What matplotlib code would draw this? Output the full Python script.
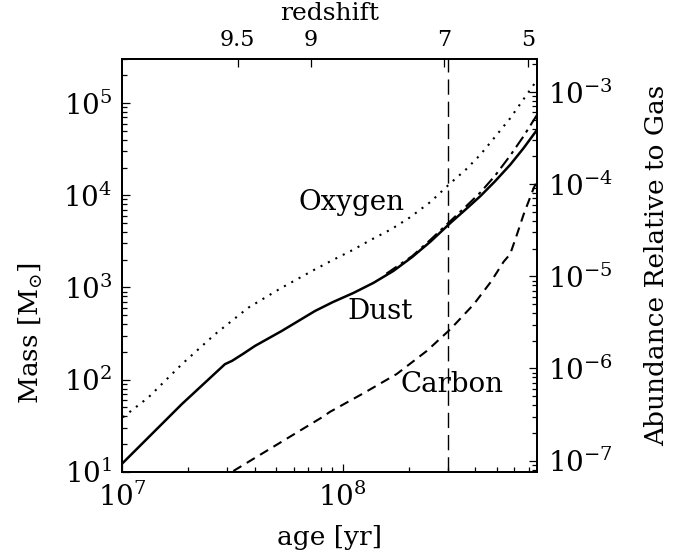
import matplotlib

matplotlib.use("Agg")
import matplotlib.pyplot as plt
import numpy as np
from matplotlib.ticker import FuncFormatter, LogLocator, NullFormatter, NullLocator

plt.rcParams["font.family"] = "DejaVu Serif"
plt.rcParams["mathtext.fontset"] = "dejavuserif"

# ages in Myr, masses in solar masses
dust_age = [10.0, 18.7, 29.3, 31.6, 35.5, 40.1, 53.0, 75.0, 90.2, 112, 138, 170, 207, 251, 308, 363, 421, 490, 575, 661, 760]
dust_mass = [12.2, 54.3, 147, 160, 191, 232, 337, 555, 692, 871, 1120, 1510, 2140, 3160, 5000, 7080, 9770, 14100, 21400, 32400, 51000]

dust2_age = [158, 207, 251, 308, 363, 421, 490, 575, 661, 760]
dust2_mass = [1410, 2190, 3310, 5250, 7590, 10700, 16200, 26900, 43600, 74100]

oxygen_age = [10.1, 13.2, 18.7, 26.4, 37.4, 53.0, 75.0, 89.1, 112, 133, 166, 202, 251, 308, 363, 421, 490, 575, 661, 760]
oxygen_mass = [39.0, 64.3, 147, 310, 603, 993, 1570, 1950, 2570, 3240, 4270, 5750, 8510, 13500, 19100, 27500, 42700, 68400, 110000, 177000]

carbon_age = [32.0, 80.7, 87.7, 124, 176, 241, 308, 393, 470, 537, 575, 617, 661, 735, 760]
carbon_mass = [10.2, 39.0, 44.7, 70.8, 115, 205, 352, 655, 1150, 1900, 2300, 3740, 6150, 11970, 14100]

gas_mass = 1.32e8  # converts mass to abundance on the right axis

redshift_labels = ["9.5", "9", "7", "5"]
redshift_age = [33.5, 72.0, 289, 694]  # Myr

marker_age = 300  # Myr, vertical dashed line

myr = 1e6


def pow10(v, pos):
    return r"$10^{%d}$" % int(round(np.log10(v)))


fig = plt.figure(figsize=(6.81, 5.59), dpi=100)
ax = fig.add_axes([0.179, 0.156, 0.6094, 0.7383])

ax.plot(np.array(dust_age) * myr, dust_mass, color="black", lw=1.8)
ax.plot(np.array(dust2_age) * myr, dust2_mass, color="black", lw=1.5, dashes=(6, 2.5, 1.5, 2.5))
ax.plot(np.array(oxygen_age) * myr, oxygen_mass, color="black", lw=1.5, dashes=(1, 3))
ax.plot(np.array(carbon_age) * myr, carbon_mass, color="black", lw=1.5, dashes=(4.5, 3))
ax.axvline(marker_age * myr, color="black", lw=1.0, dashes=(11, 5))

ax.set_xscale("log")
ax.set_yscale("log")
xlim = (1e7, 7.6e8)
ylim = (10, 3e5)
ax.set_xlim(xlim)
ax.set_ylim(ylim)

for axis in (ax.xaxis, ax.yaxis):
    axis.set_major_formatter(FuncFormatter(pow10))
    axis.set_minor_locator(LogLocator(subs=np.arange(2, 10), numticks=20))
    axis.set_minor_formatter(NullFormatter())

ax.tick_params(which="both", direction="in", labelsize=20, width=0.9)
ax.tick_params(which="major", length=6)
ax.tick_params(which="minor", length=3.5)
ax.tick_params(axis="x", pad=8)
ax.tick_params(axis="y", pad=7)

ax.text(1.10e8, 6970, "Oxygen", fontsize=20, ha="center", va="baseline")
ax.text(1.48e8, 451, "Dust", fontsize=20, ha="center", va="baseline")
ax.text(3.14e8, 73.3, "Carbon", fontsize=20, ha="center", va="baseline")

ax.set_xlabel("age [yr]", fontsize=19)
ax.xaxis.set_label_coords(0.5, -0.13)
ax.set_ylabel(r"Mass [M$_{\odot}$]", fontsize=19)
ax.yaxis.set_label_coords(-0.186, 0.337)

# right axis: abundance relative to gas
axr = ax.twinx()
axr.set_yscale("log")
axr.set_ylim(ylim[0] / gas_mass, ylim[1] / gas_mass)
axr.yaxis.set_major_formatter(FuncFormatter(pow10))
axr.yaxis.set_minor_locator(LogLocator(subs=np.arange(2, 10), numticks=20))
axr.yaxis.set_minor_formatter(NullFormatter())
axr.tick_params(which="both", direction="in", labelsize=20, width=0.9, pad=8)
axr.tick_params(which="major", length=6)
axr.tick_params(which="minor", length=3.5)
axr.set_ylabel("Abundance Relative to Gas", fontsize=19)
axr.yaxis.set_label_coords(1.258, 0.5)

# top axis: redshift
axt = ax.twiny()
axt.set_xscale("log")
axt.set_xlim(xlim)
axt.set_xticks(np.array(redshift_age) * myr)
axt.set_xticklabels(redshift_labels)
axt.xaxis.set_minor_locator(NullLocator())
axt.tick_params(direction="in", labelsize=16, length=6, width=0.9, pad=5.5)
axt.set_xlabel("redshift", fontsize=18)
axt.xaxis.set_label_coords(0.5, 1.095)

for a in (ax, axr, axt):
    for s in a.spines.values():
        s.set_linewidth(1.2)

fig.savefig("out.png", dpi=100)
plt.close(fig)
